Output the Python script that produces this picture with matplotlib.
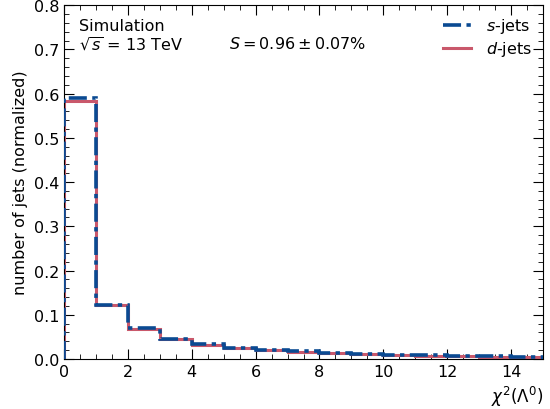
import numpy as np
import matplotlib
matplotlib.use("Agg")
import matplotlib.pyplot as plt
from matplotlib.ticker import MultipleLocator

bin_edges = [0, 1, 2, 3, 4, 5, 6, 7, 8, 9, 10, 11, 12, 13, 14, 15]
s_jets = [0.591, 0.123, 0.069, 0.046, 0.033, 0.025, 0.021, 0.017, 0.014, 0.012, 0.009, 0.008, 0.007, 0.006, 0.005]
d_jets = [0.583, 0.121, 0.068, 0.045, 0.032, 0.024, 0.020, 0.016, 0.013, 0.011, 0.009, 0.007, 0.006, 0.005, 0.004]

blue = "#0a4a92"
red = "#c9586b"

plt.rcParams["font.family"] = "DejaVu Sans"
plt.rcParams["mathtext.fontset"] = "dejavusans"

fig = plt.figure(figsize=(5.5, 4.1), dpi=100)
ax = fig.add_axes([0.1164, 0.1220, 0.8709, 0.8630])

ax.stairs(d_jets, bin_edges, color=red, lw=2.2, label=r"$d$-jets", zorder=2)
ax.stairs(s_jets, bin_edges, color=blue, lw=2.6, linestyle=(0, (5, 1.5, 1.2, 1.5)),
          label=r"$s$-jets", zorder=3)

ax.set_xlim(0, 15)
ax.set_ylim(0, 0.8)
ax.xaxis.set_major_locator(MultipleLocator(2))
ax.xaxis.set_minor_locator(MultipleLocator(0.5))
ax.yaxis.set_major_locator(MultipleLocator(0.1))
ax.yaxis.set_minor_locator(MultipleLocator(0.02))
ax.tick_params(which="both", direction="in", top=True, right=True, labelsize=11.5)
ax.tick_params(which="major", length=7)
ax.tick_params(which="minor", length=3.5)

ax.set_ylabel("number of jets (normalized)", fontsize=11.5)
ax.set_xlabel(r"$\chi^2(\Lambda^0)$", fontsize=12, loc="right")

ax.text(0.032, 0.965, "Simulation", transform=ax.transAxes, fontsize=11.5, va="top")
ax.text(0.032, 0.915, r"$\sqrt{s}$ = 13 TeV", transform=ax.transAxes, fontsize=11.5, va="top")
ax.text(0.345, 0.915, r"$S = 0.96 \pm 0.07\%$", transform=ax.transAxes, fontsize=11.5, va="top")

handles, labels = ax.get_legend_handles_labels()
ax.legend(handles[::-1], labels[::-1], loc="upper right", frameon=False, fontsize=11.5,
          handlelength=1.8, handletextpad=0.9, borderaxespad=0.3, labelspacing=0.25)

fig.savefig("out.png", dpi=100)
